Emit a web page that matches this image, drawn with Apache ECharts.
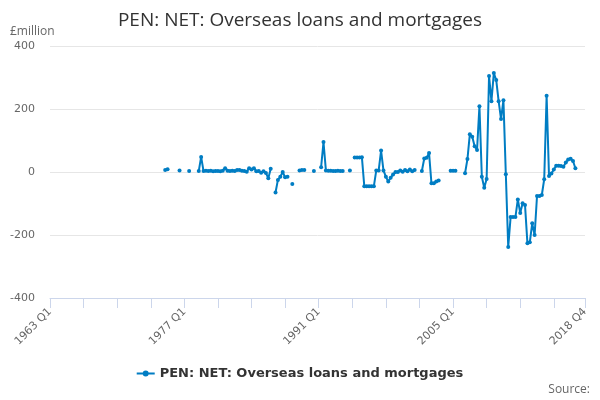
<!DOCTYPE html>
<html>
<head>
<meta charset="utf-8">
<script src="https://cdn.jsdelivr.net/npm/echarts@6/dist/echarts.min.js"></script>
<style>
html, body { margin: 0; padding: 0; background: #fff; }
#chart { width: 600px; height: 400px; }
</style>
</head>
<body>
<div id="chart"></div>
<script>
// 坐标轴范围
const firstYear = 1963;
const lastYear = 2018;
const yTicks = [-400, -200, 0, 200, 400];
const labelQuarters = ["1963 Q1", "1977 Q1", "1991 Q1", "2005 Q1", "2018 Q4"];
const seriesName = "PEN: NET: Overseas loans and mortgages";

// 季度数值（每行一年：Q1..Q4），null = 无数据
const values = [
	null, null, null, null, // 1963
	null, null, null, null,
	null, null, null, null,
	null, null, null, null,
	null, null, null, null,
	null, null, null, null,
	null, null, null, null,
	null, null, null, null,
	null, null, null, null,
	null, null, null, null,
	null, null, null, null,
	null, null, null, null, // 1974
	6, 9, null, null,
	null, null, 5, null,
	null, null, 3, null,
	null, null, 3, 48, // 1978
	3, 4, 3, 4,
	2, 3, 3, 2,
	4, 12, 4, 3,
	4, 3, 6, 6,
	4, 3, 1, 12,
	8, 12, 2, 3,
	-2, 2, -3, -20,
	10, null, -65, -25, // 1986
	-15, 0, -17, -15,
	null, -38, null, null,
	5, 6, 6, null,
	null, null, 3, null, // 1990
	null, 15, 95, 5,
	4, 4, 3, 3,
	4, 3, 3, null,
	null, 5, null, 46,
	46, 46, 47, -45, // 1995
	-45, -45, -45, -45,
	5, 5, 68, 5,
	-15, -30, -18, -8,
	0, 0, 5, 1,
	6, 2, 8, 2, // 2000
	6, null, null, 3,
	43, 45, 60, -36,
	-36, -30, -27, null,
	null, null, null, 4,
	4, 4, null, null, // 2005
	null, -4, 41, 120,
	112, 82, 70, 209,
	-15, -50, -22, 305,
	225, 314, 292, 225,
	168, 228, -7, -238, // 2010
	-143, -143, -143, -87,
	-130, -99, -105, -226,
	-223, -163, -200, -76,
	-76, -73, -23, 242,
	-13, -5, 8, 20, // 2015
	20, 19, 17, 30,
	40, 42, 35, 12,
	null, null, null, null // 2018
];

// 类目
const categories = [];
for (let y = firstYear; y <= lastYear; y++) {
	for (let q = 1; q <= 4; q++) categories.push(y + " Q" + q);
}
const lastIndex = categories.length - 1;

const dom = document.getElementById("chart");
const myChart = echarts.init(dom);

const option = {
	animation: false,
	title: {
		text: "PEN: NET: Overseas loans and mortgages",
		left: "center",
		top: 6,
		textStyle: {
			color: "#333333",
			fontSize: 19,
			fontWeight: "normal",
			fontFamily: "Open Sans"
		}
	},
	graphic: [{
		type: "text",
		left: 10,
		top: 26,
		style: { text: "£million", fill: "#666666", font: "12px 'Open Sans'" }
	}, {
		type: "text",
		right: 10,
		bottom: 4,
		style: { text: "Source:", fill: "#666666", font: "12px 'Open Sans'" }
	}],
	legend: {
		bottom: 15,
		left: "center",
		itemWidth: 18,
		itemHeight: 10,
		icon: "path://M0,4 L18,4 L18,6 L0,6 Z M9,2 A3,3 0 1,1 8.99,2 Z",
		textStyle: {
			color: "#333333",
			fontSize: 13,
			fontWeight: "bold",
			fontFamily: "DejaVu Sans"
		},
		data: [seriesName]
	},
	grid: {
		left: 50,
		right: 15,
		top: 46,
		bottom: 102
	},
	xAxis: {
		type: "category",
		data: categories,
		boundaryGap: false,
		axisLine: { onZero: false, lineStyle: { color: "#ccd6eb" } },
		axisTick: {
			length: 10,
			lineStyle: { color: "#ccd6eb" },
			interval: function(i) {
				return i % 14 === 0 || i === lastIndex;
			}
		},
		axisLabel: {
			rotate: 45,
			margin: 12,
			color: "#666666",
			fontSize: 11,
			fontFamily: "DejaVu Sans",
			interval: function(i, v) {
				return labelQuarters.indexOf(v) >= 0;
			}
		},
		splitLine: { show: false }
	},
	yAxis: {
		type: "value",
		min: yTicks[0],
		max: yTicks[yTicks.length - 1],
		interval: 200,
		axisLine: { show: false },
		axisTick: { show: false },
		axisLabel: {
			color: "#666666",
			fontSize: 11,
			margin: 15,
			fontFamily: "DejaVu Sans"
		},
		splitLine: { lineStyle: { color: "#e6e6e6" } }
	},
	series: [{
		name: seriesName,
		type: "line",
		data: values,
		connectNulls: false,
		showSymbol: true,
		showAllSymbol: true,
		symbol: "circle",
		symbolSize: 4,
		itemStyle: { color: "#007dc3" },
		lineStyle: { color: "#007dc3", width: 2 }
	}]
};

myChart.setOption(option);
</script>
</body>
</html>
